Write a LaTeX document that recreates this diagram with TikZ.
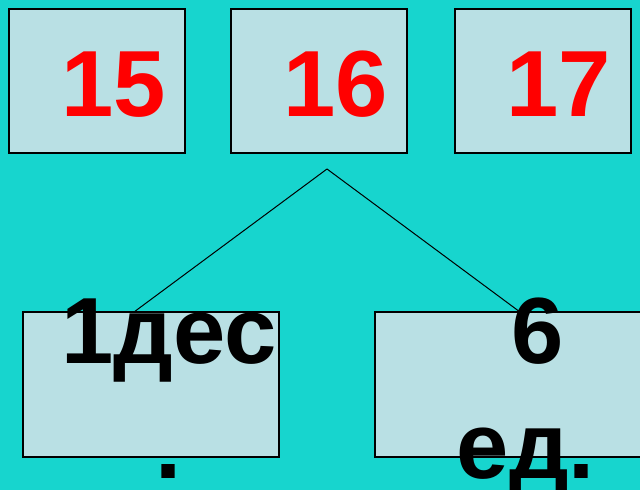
\documentclass[tikz,border=0pt]{standalone}
\usepackage{fontspec}
\setmainfont{Liberation Sans}
\usetikzlibrary{calc,positioning}
\definecolor{sea}{HTML}{17D5CE}
\definecolor{card}{HTML}{B9E0E4}
\tikzset{
	card/.style={draw=black, line width=1.5pt, fill=card, minimum width=176pt, minimum height=144pt, inner sep=0pt},
	num/.style={font=\fontsize{94}{115}\selectfont\bfseries, text=red, anchor=base, inner sep=0pt},
	part/.style={font=\fontsize{94}{115}\selectfont\bfseries, text=black, anchor=base, inner sep=0pt, align=center}
}
\begin{document}
\begin{tikzpicture}[x=1pt,y=-1pt]
		\useasboundingbox (0,0) rectangle (640,490);
		\clip (0,0) rectangle (640,490);
		\fill[sea] (0,0) rectangle (640,490);

		% top cards
		\node[card] (c15) at (97,81) {};
		\node[card] (c16) at (319,81) {};
		\node[card] (c17) at (543,81) {};
		\node[num] (n15) at (114,116) {15};
		\node[num] (n16) at (336,116) {16};
		\node[num] (n17) at (559,116) {17};

		% lower cards
		\node[card, minimum width=256pt, minimum height=145pt] (tens) at (151,384.5) {};
		\node[card, minimum width=280pt, minimum height=145pt] (ones) at (515,384.5) {};

		% split lines
		\coordinate (apex) at (327,169);
		\draw[line width=1pt] (apex) -- ([xshift=-16pt]tens.north);
		\draw[line width=1pt] (apex) -- ([xshift=4pt]ones.north);

		\node[part] (t1) at (169,478) {1дес\\.};
		\node[part] (o1) at (526,478) {\hspace*{24pt}6\\ед.};
	\end{tikzpicture}
\end{document}
